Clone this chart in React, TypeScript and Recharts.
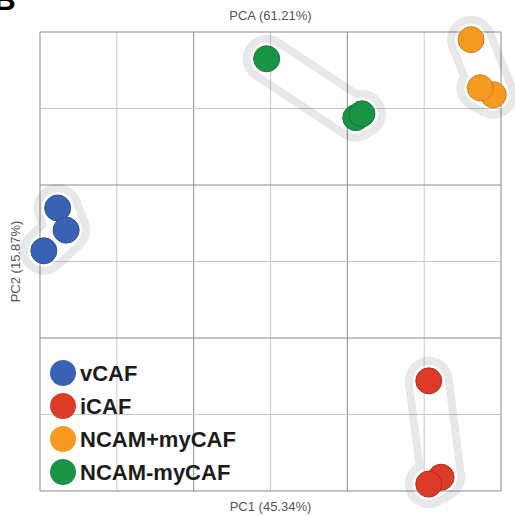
import React from 'react';
import { ScatterChart, Scatter, XAxis, YAxis, ReferenceLine, Legend } from 'recharts';

const groups = ['vCAF', 'iCAF', 'NCAM+myCAF', 'NCAM-myCAF'];
const colors = ['#3a62b4', '#dc3b27', '#f69a22', '#199444'];
const edges = ['#2d4f98', '#b32c1b', '#d07e15', '#127535'];

const vcafX = [-2.77, -2.66, -2.95];
const vcafY = [0.7, 0.41, 0.14];
const icafX = [2.06, 2.22, 2.06];
const icafY = [-1.56, -2.82, -2.91];
const ncamPosX = [2.61, 2.9, 2.73];
const ncamPosY = [2.9, 2.18, 2.27];
const ncamNegX = [-0.05, 1.11, 1.19];
const ncamNegY = [2.65, 1.88, 1.93];

const ticks = [-3, -2, -1, 0, 1, 2, 3];
const majorTicks = [-3, -1, 1, 3];

const toPoints = (xs: number[], ys: number[]) => xs.map((x, i) => ({ x, y: ys[i] }));
const series = [
  toPoints(vcafX, vcafY),
  toPoints(icafX, icafY),
  toPoints(ncamPosX, ncamPosY),
  toPoints(ncamNegX, ncamNegY),
];

const font = '"Liberation Sans", Arial, Helvetica, sans-serif';
const gridColor = (t: number) => (majorTicks.includes(t) ? '#8a8a8a' : '#c8c8c8');
// minor lines first so the darker ones sit on top
const gridOrder = ticks.filter((t) => !majorTicks.includes(t)).concat(majorTicks);

// grey capsule drawn round each cluster, hollow in the middle
const hull = (id: string) => (p: any) => {
  const pts = p.points || [];
  const d = pts.map((q: any, i: number) => `${i ? 'L' : 'M'}${q.x},${q.y}`).join(' ');
  return (
    <g>
      <defs>
        <mask id={id} maskUnits="userSpaceOnUse" x={-100} y={-100} width={800} height={800}>
          <rect x={-100} y={-100} width={800} height={800} fill="#fff" />
          <path d={d} fill="none" stroke="#000" strokeWidth={32} strokeLinecap="round" strokeLinejoin="round" />
        </mask>
      </defs>
      <path
        d={d}
        fill="none"
        stroke="#000"
        strokeOpacity={0.09}
        strokeWidth={48}
        strokeLinecap="round"
        strokeLinejoin="round"
        mask={`url(#${id})`}
      />
    </g>
  );
};

const dot = (edge: string) => (p: any) => (
  <circle cx={p.cx} cy={p.cy} r={13} fill={p.fill} stroke={edge} strokeWidth={1} />
);

const LegendBox = ({ payload }: any) => {
  const items = (payload || [])
    .filter((e: any) => groups.includes(e.value))
    .sort((a: any, b: any) => groups.indexOf(a.value) - groups.indexOf(b.value));
  return (
    <div style={{ fontFamily: font }}>
      {items.map((e: any) => (
        <div key={e.value} style={{ display: 'flex', alignItems: 'center', height: 33 }}>
          <span style={{ width: 26, height: 26, borderRadius: 13, background: e.color, marginRight: 4 }} />
          <span style={{ fontSize: 22, fontWeight: 'bold', color: '#1c1c1c', lineHeight: 1, paddingTop: 3 }}>{e.value}</span>
        </div>
      ))}
    </div>
  );
};

export default function App() {
  return (
    <div style={{ position: 'absolute', left: 0, top: 0, width: 515, height: 516, background: '#fff', overflow: 'hidden' }}>
      <span style={{ position: 'absolute', left: -6, top: -15, fontFamily: font, fontWeight: 'bold', fontSize: 30, lineHeight: 1, color: '#000' }}>B</span>
      <div style={{ position: 'absolute', left: 40, width: 461, top: 9, textAlign: 'center', fontFamily: font, fontSize: 13, lineHeight: '13px', color: '#555' }}>
        PCA (61.21%)
      </div>
      <ScatterChart width={515} height={516} margin={{ top: 32, right: 14, bottom: 0, left: 0 }} style={{ fontFamily: font }}>
        {groups.map((g, i) => (
          <Scatter
            key={'hull' + g}
            data={series[i]}
            line={hull('hull' + i)}
            shape={() => <g />}
            legendType="none"
            isAnimationActive={false}
          />
        ))}
        <XAxis
          type="number"
          dataKey="x"
          domain={[-3, 3]}
          ticks={ticks}
          tick={false}
          tickLine={false}
          axisLine={false}
          height={25}
          label={{ value: 'PC1 (45.34%)', position: 'insideBottom', offset: 5, fill: '#555', fontSize: 13 }}
        />
        <YAxis
          type="number"
          dataKey="y"
          domain={[-3, 3]}
          ticks={ticks}
          tick={false}
          tickLine={false}
          axisLine={false}
          width={40}
          label={{ value: 'PC2 (15.87%)', angle: -90, position: 'insideLeft', offset: 15, fill: '#555', fontSize: 13, style: { textAnchor: 'middle' } }}
        />
        {gridOrder.map((t) => (
          <ReferenceLine key={'vx' + t} x={t} stroke={gridColor(t)} />
        ))}
        {gridOrder.map((t) => (
          <ReferenceLine key={'hy' + t} y={t} stroke={gridColor(t)} />
        ))}
        {groups.map((g, i) => (
          <Scatter
            key={g}
            name={g}
            data={series[i]}
            fill={colors[i]}
            shape={dot(edges[i])}
            isAnimationActive={false}
          />
        ))}
        <Legend
          layout="vertical"
          align="center"
          verticalAlign="middle"
          content={<LegendBox />}
          wrapperStyle={{ left: 50, top: 356, width: 'auto' }}
        />
      </ScatterChart>
    </div>
  );
}
